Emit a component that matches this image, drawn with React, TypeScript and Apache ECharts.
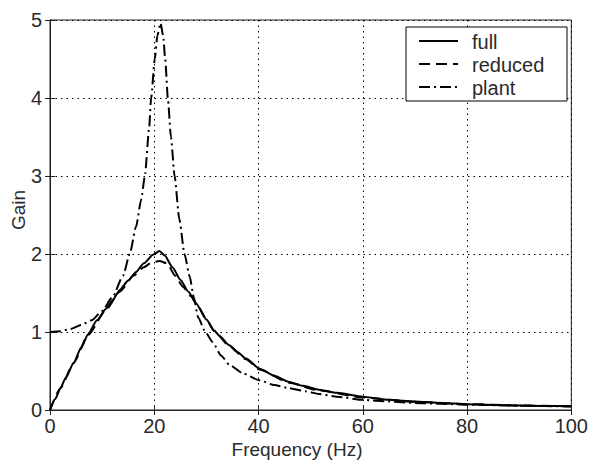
import React, { useEffect, useRef } from "react";
import * as echarts from "echarts";

// Frequency response magnitudes (Hz vs gain)
const fullFreq = [0, 1, 2, 3, 4.5, 6, 7.3, 9, 10.8, 12, 13.4, 15, 16.5, 18, 19.75, 21, 22, 23.5, 25, 26.5, 28, 30, 31.5, 32.5, 34.4, 36, 37.6, 40.2, 43, 45.9, 48.5, 51.6, 55, 60, 65, 70, 75, 80, 85, 90, 95, 100];
const fullGain = [0, 0.14, 0.28, 0.41, 0.6, 0.8, 0.97, 1.15, 1.3, 1.41, 1.54, 1.66, 1.77, 1.88, 1.99, 2.04, 1.98, 1.83, 1.67, 1.52, 1.37, 1.16, 1.02, 0.95, 0.83, 0.74, 0.66, 0.53, 0.44, 0.36, 0.31, 0.26, 0.22, 0.17, 0.13, 0.11, 0.09, 0.075, 0.065, 0.058, 0.052, 0.047];

const reducedFreq = [0, 2, 4.5, 7.3, 10.8, 13.4, 16, 18, 19.5, 21, 22.5, 24, 25.5, 27, 28.5, 30, 31.5, 34.4, 37.6, 40.2, 45.9, 51.6, 60, 70, 80, 90, 100];
const reducedGain = [0, 0.28, 0.6, 0.96, 1.29, 1.52, 1.72, 1.83, 1.89, 1.91, 1.88, 1.72, 1.58, 1.46, 1.32, 1.16, 1.01, 0.82, 0.65, 0.52, 0.35, 0.25, 0.16, 0.105, 0.075, 0.058, 0.047];

const plantFreq = [0, 2, 4, 6, 8, 10, 12, 14, 15.3, 16.5, 17.5, 18.2, 19, 19.4, 20.1, 20.6, 21.2, 21.7, 22.1, 22.6, 23.2, 23.9, 24.8, 25.8, 26.8, 27.6, 28.4, 29.8, 31.2, 32.8, 34.4, 37, 40.2, 43, 45.9, 49, 51.6, 55, 60, 65, 70, 75, 80, 90, 100];
const plantGain = [1.0, 1.01, 1.04, 1.09, 1.15, 1.27, 1.45, 1.72, 2.0, 2.35, 2.7, 3.0, 3.6, 4.0, 4.5, 4.8, 4.96, 4.8, 4.5, 4.0, 3.5, 3.0, 2.45, 2.0, 1.71, 1.44, 1.19, 1.0, 0.87, 0.7, 0.58, 0.47, 0.38, 0.32, 0.28, 0.24, 0.205, 0.17, 0.13, 0.11, 0.09, 0.08, 0.068, 0.055, 0.045];

const seriesNames = ["full", "reduced", "plant"];
const seriesDash: (number[] | null)[] = [null, [11, 6], [11, 4, 2, 4]];

const pairs = (xs: number[], ys: number[]) => xs.map((x, i) => [x, ys[i]]);

const FONT = "Liberation Sans";
const TEXT = "#2a2a2a";

export default function App() {
  const ref = useRef<HTMLDivElement>(null);

  useEffect(() => {
    document.body.style.margin = "0";
    const chart = echarts.init(ref.current!, undefined, { renderer: "svg" });

    const gridLine = { show: true, lineStyle: { color: "#000", width: 1, type: [1.5, 4] as any } };
    const tick = { show: true, inside: true, length: 5, lineStyle: { color: "#222" } };
    const label = { color: TEXT, fontFamily: FONT, fontSize: 20 };

    // Boxed legend in the upper right corner of the axes
    const legendBox = { x: 406, y: 27, w: 161, h: 74 };
    const legendRows = [41, 64, 87];
    const legendItems: any[] = [
      {
        type: "rect",
        shape: { x: legendBox.x, y: legendBox.y, width: legendBox.w, height: legendBox.h },
        style: { fill: "#fff", stroke: "#000", lineWidth: 1 },
        z: 100,
      },
    ];
    seriesNames.forEach((name, i) => {
      legendItems.push({
        type: "line",
        shape: { x1: 419, y1: legendRows[i], x2: 458, y2: legendRows[i] },
        style: { stroke: "#000", lineWidth: 2, lineDash: seriesDash[i] || undefined },
        z: 101,
      });
      legendItems.push({
        type: "text",
        x: 472,
        y: legendRows[i] + 1,
        style: { text: name, fill: TEXT, font: `20px "${FONT}"`, textAlign: "left", textVerticalAlign: "middle" },
        z: 101,
      });
    });

    const seriesData = [pairs(fullFreq, fullGain), pairs(reducedFreq, reducedGain), pairs(plantFreq, plantGain)];

    chart.setOption({
      animation: false,
      backgroundColor: "#fff",
      grid: { left: 50, right: 18, top: 20, bottom: 56, show: true, borderColor: "#222", borderWidth: 1, backgroundColor: "transparent" },
      xAxis: [
        {
          type: "value",
          min: 0,
          max: 100,
          interval: 20,
          axisLine: { show: true, lineStyle: { color: "#222" } },
          axisTick: tick,
          axisLabel: { ...label, margin: 6 },
          splitLine: gridLine,
        },
        {
          type: "value",
          position: "top",
          min: 0,
          max: 100,
          interval: 20,
          axisLine: { show: true, lineStyle: { color: "#222" } },
          axisTick: tick,
          axisLabel: { show: false },
          splitLine: { show: false },
        },
      ],
      yAxis: [
        {
          type: "value",
          min: 0,
          max: 5,
          interval: 1,
          axisLine: { show: true, lineStyle: { color: "#222" } },
          axisTick: tick,
          axisLabel: { ...label, margin: 8 },
          splitLine: gridLine,
        },
        {
          type: "value",
          position: "right",
          min: 0,
          max: 5,
          interval: 1,
          axisLine: { show: true, lineStyle: { color: "#222" } },
          axisTick: tick,
          axisLabel: { show: false },
          splitLine: { show: false },
        },
      ],
      graphic: [
        {
          type: "text",
          x: 297,
          y: 449,
          style: { text: "Frequency (Hz)", fill: TEXT, font: `19px "${FONT}"`, textAlign: "center", textVerticalAlign: "middle" },
        },
        {
          type: "text",
          x: 18,
          y: 210,
          rotation: Math.PI / 2,
          style: { text: "Gain", fill: TEXT, font: `19px "${FONT}"`, textAlign: "center", textVerticalAlign: "middle" },
        },
        ...legendItems,
      ],
      series: seriesNames.map((name, i) => ({
        name,
        type: "line",
        data: seriesData[i],
        symbol: "none",
        smooth: 0.2,
        smoothMonotone: "x",
        lineStyle: { color: "#000", width: 2, type: seriesDash[i] || "solid" },
        itemStyle: { color: "#000" },
        z: 3,
      })),
    });

    return () => chart.dispose();
  }, []);

  return <div ref={ref} style={{ width: 591, height: 466 }} />;
}
